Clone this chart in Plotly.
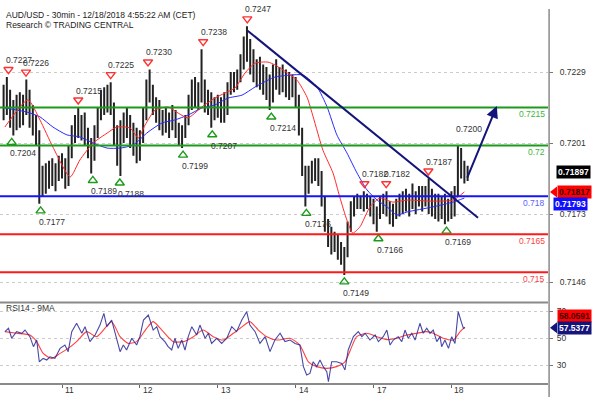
import plotly.graph_objects as go

# ---------------- data (hourly bars, hours counted from the start of day 11) ----------------
bar_hours = list(range(-18, 126))
bar_open = [
    0.7218, 0.7221, 0.7219, 0.7214, 0.7212, 0.7217, 0.7214, 0.7218, 0.7220, 0.7213, 0.7209, 0.7205,
    0.7185, 0.7188, 0.7186, 0.7190, 0.7187, 0.7190,
    0.7193, 0.7191, 0.7186, 0.7197, 0.7205, 0.7209, 0.7207, 0.7210, 0.7203, 0.7199, 0.7196, 0.7206,
    0.7213, 0.7219, 0.7215, 0.7220, 0.7214, 0.7204, 0.7198, 0.7207, 0.7210, 0.7206, 0.7202, 0.7205,
    0.7199, 0.7203, 0.7212, 0.7222, 0.7221, 0.7214, 0.7216, 0.7209, 0.7211, 0.7207, 0.7210, 0.7212,
    0.7206, 0.7203, 0.7205, 0.7210, 0.7218, 0.7223, 0.7219, 0.7221, 0.7223, 0.7216, 0.7218, 0.7212,
    0.7216, 0.7214, 0.7217, 0.7213, 0.7222, 0.7226, 0.7224, 0.7228, 0.7233, 0.7239, 0.7236, 0.7232,
    0.7229, 0.7231, 0.7226, 0.7228, 0.7223, 0.7219, 0.7229, 0.7225, 0.7227, 0.7224, 0.7226, 0.7221,
    0.7225, 0.7218, 0.7206, 0.7190, 0.7183, 0.7189, 0.7191, 0.7193, 0.7187, 0.7178, 0.7169, 0.7164,
    0.7161, 0.7163, 0.7158, 0.7156, 0.7158, 0.7168, 0.7175, 0.7178, 0.7180, 0.7177, 0.7180, 0.7177,
    0.7175, 0.7172, 0.7174, 0.7177, 0.7179, 0.7175, 0.7172, 0.7174, 0.7177, 0.7175, 0.7179, 0.7177,
    0.7180, 0.7178, 0.7181, 0.7179, 0.7182, 0.7178, 0.7180, 0.7176, 0.7178, 0.7174, 0.7177, 0.7173,
    0.7176, 0.7179, 0.7181, 0.7195, 0.7190, 0.7187,
]
bar_high = [
    0.7224, 0.7227, 0.7222, 0.7218, 0.7220, 0.7221, 0.7220, 0.7226, 0.7222, 0.7216, 0.7212, 0.7206,
    0.7192, 0.7193, 0.7194, 0.7195, 0.7193, 0.7196,
    0.7197, 0.7195, 0.7200, 0.7208, 0.7212, 0.7215, 0.7212, 0.7213, 0.7207, 0.7203, 0.7208, 0.7215,
    0.7222, 0.7223, 0.7224, 0.7225, 0.7217, 0.7208, 0.7210, 0.7213, 0.7215, 0.7212, 0.7209, 0.7207,
    0.7206, 0.7215, 0.7226, 0.7230, 0.7224, 0.7219, 0.7218, 0.7214, 0.7215, 0.7213, 0.7216, 0.7214,
    0.7209, 0.7208, 0.7212, 0.7220, 0.7226, 0.7227, 0.7225, 0.7238, 0.7226, 0.7222, 0.7221, 0.7219,
    0.7220, 0.7219, 0.7221, 0.7225, 0.7229, 0.7229, 0.7230, 0.7236, 0.7243, 0.7247, 0.7242, 0.7238,
    0.7234, 0.7235, 0.7232, 0.7231, 0.7228, 0.7232, 0.7234, 0.7231, 0.7232, 0.7230, 0.7229, 0.7228,
    0.7227, 0.7220, 0.7207, 0.7192, 0.7192, 0.7194, 0.7195, 0.7195, 0.7190, 0.7180, 0.7171, 0.7168,
    0.7166, 0.7165, 0.7162, 0.7160, 0.7170, 0.7178, 0.7180, 0.7181, 0.7180, 0.7182, 0.7181, 0.7180,
    0.7179, 0.7176, 0.7180, 0.7181, 0.7182, 0.7178, 0.7177, 0.7179, 0.7181, 0.7182, 0.7183, 0.7181,
    0.7185, 0.7182, 0.7184, 0.7184, 0.7184, 0.7187, 0.7183, 0.7181, 0.7181, 0.7180, 0.7181, 0.7179,
    0.7182, 0.7184, 0.7200, 0.7199, 0.7194, 0.7192,
]
bar_low = [
    0.7210, 0.7212, 0.7207, 0.7204, 0.7206, 0.7207, 0.7208, 0.7212, 0.7207, 0.7204, 0.7200, 0.7177,
    0.7180, 0.7181, 0.7183, 0.7184, 0.7182, 0.7186,
    0.7187, 0.7183, 0.7184, 0.7195, 0.7201, 0.7203, 0.7202, 0.7200, 0.7195, 0.7189, 0.7194, 0.7203,
    0.7210, 0.7212, 0.7213, 0.7212, 0.7200, 0.7192, 0.7188, 0.7201, 0.7203, 0.7199, 0.7196, 0.7193,
    0.7194, 0.7201, 0.7210, 0.7217, 0.7212, 0.7209, 0.7206, 0.7204, 0.7205, 0.7203, 0.7206, 0.7203,
    0.7200, 0.7199, 0.7203, 0.7208, 0.7214, 0.7215, 0.7214, 0.7217, 0.7213, 0.7212, 0.7207, 0.7210,
    0.7211, 0.7209, 0.7209, 0.7212, 0.7220, 0.7221, 0.7222, 0.7225, 0.7230, 0.7233, 0.7228, 0.7225,
    0.7223, 0.7222, 0.7220, 0.7218, 0.7214, 0.7217, 0.7222, 0.7220, 0.7221, 0.7219, 0.7218, 0.7219,
    0.7215, 0.7204, 0.7188, 0.7176, 0.7181, 0.7185, 0.7186, 0.7184, 0.7176, 0.7166, 0.7160, 0.7157,
    0.7158, 0.7155, 0.7153, 0.7149, 0.7156, 0.7166, 0.7172, 0.7175, 0.7175, 0.7174, 0.7175, 0.7172,
    0.7169, 0.7166, 0.7171, 0.7173, 0.7172, 0.7169, 0.7168, 0.7171, 0.7172, 0.7173, 0.7174, 0.7172,
    0.7175, 0.7173, 0.7176, 0.7174, 0.7176, 0.7173, 0.7172, 0.7171, 0.7170, 0.7171, 0.7169, 0.7170,
    0.7171, 0.7172, 0.7180, 0.7187, 0.7185, 0.7186,
]
bar_close = [
    0.7221, 0.7219, 0.7214, 0.7212, 0.7217, 0.7214, 0.7218, 0.7220, 0.7213, 0.7209, 0.7205, 0.7185,
    0.7188, 0.7186, 0.7190, 0.7187, 0.7190, 0.7193,
    0.7191, 0.7186, 0.7197, 0.7205, 0.7209, 0.7207, 0.7210, 0.7203, 0.7199, 0.7196, 0.7206, 0.7213,
    0.7219, 0.7215, 0.7220, 0.7214, 0.7204, 0.7198, 0.7207, 0.7210, 0.7206, 0.7202, 0.7205, 0.7199,
    0.7203, 0.7212, 0.7222, 0.7221, 0.7214, 0.7216, 0.7209, 0.7211, 0.7207, 0.7210, 0.7212, 0.7206,
    0.7203, 0.7205, 0.7210, 0.7218, 0.7223, 0.7219, 0.7221, 0.7223, 0.7216, 0.7218, 0.7212, 0.7216,
    0.7214, 0.7217, 0.7213, 0.7222, 0.7226, 0.7224, 0.7228, 0.7233, 0.7239, 0.7236, 0.7232, 0.7229,
    0.7231, 0.7226, 0.7228, 0.7223, 0.7219, 0.7229, 0.7225, 0.7227, 0.7224, 0.7226, 0.7221, 0.7225,
    0.7218, 0.7206, 0.7190, 0.7183, 0.7189, 0.7191, 0.7193, 0.7187, 0.7178, 0.7169, 0.7164, 0.7161,
    0.7163, 0.7158, 0.7156, 0.7158, 0.7168, 0.7175, 0.7178, 0.7180, 0.7177, 0.7180, 0.7177, 0.7175,
    0.7172, 0.7174, 0.7177, 0.7179, 0.7175, 0.7172, 0.7174, 0.7177, 0.7175, 0.7179, 0.7177, 0.7180,
    0.7178, 0.7181, 0.7179, 0.7182, 0.7178, 0.7180, 0.7176, 0.7178, 0.7174, 0.7177, 0.7173, 0.7176,
    0.7179, 0.7181, 0.7195, 0.7190, 0.7187, 0.71897,
]

# moving averages on price
ma_fast_hours = [-17.6, -10.5, -6.8, -2.8, 2.5, 5.5, 9.6, 13.9, 16.9, 21.0, 23.5, 25.6, 28.7, 32.7,
                 35.8, 38.8, 43.1, 47.1, 50.2, 53.3, 56.4, 59.5, 63.5, 65.6, 68.1, 72.4, 75.5, 77.4,
                 80.4, 83.5, 85.6, 87.8, 89.6, 91.8, 94.9, 98.0, 102.0, 106.3, 113.4, 120.5, 124.0]
ma_fast_values = [0.72073, 0.72180, 0.72101, 0.71994, 0.71876, 0.71943, 0.72010, 0.72049, 0.72073,
                  0.72069, 0.72030, 0.72081, 0.72140, 0.72152, 0.72128, 0.72109, 0.72152, 0.72187,
                  0.72207, 0.72227, 0.72286, 0.72325, 0.72329, 0.72318, 0.72298, 0.72258, 0.72191,
                  0.72113, 0.71982, 0.71892, 0.71797, 0.71706, 0.71655, 0.71679, 0.71758, 0.71793,
                  0.71777, 0.71785, 0.71781, 0.71785, 0.71817]
ma_slow_hours = [-17.6, -10.8, -6.8, -2.8, 1.5, 5.5, 9.6, 13.9, 17.9, 21.9, 26.5, 30.8, 34.8, 38.8,
                 43.1, 47.1, 51.1, 55.5, 59.5, 63.5, 65.6, 70.3, 74.3, 78.6, 81.7, 84.7, 87.8, 90.9,
                 94.0, 97.1, 100.2, 103.2, 106.3, 114.3, 120.5, 124.0]
ma_slow_values = [0.72148, 0.72132, 0.72113, 0.72073, 0.72042, 0.72034, 0.72010, 0.71990, 0.71990,
                  0.72002, 0.72053, 0.72089, 0.72101, 0.72120, 0.72148, 0.72160, 0.72187, 0.72199,
                  0.72231, 0.72258, 0.72270, 0.72278, 0.72278, 0.72231, 0.72152, 0.72042, 0.71971,
                  0.71892, 0.71825, 0.71785, 0.71758, 0.71726, 0.71738, 0.71758, 0.71777, 0.71793]

# RSI14 and its 9MA
rsi_hours = [-17.6, -16.5, -15.5, -14.0, -12.4, -11.4, -9.9, -8.8, -7.8, -7.0, -5.8, -4.7, -3.7, -2.2,
             -0.6, 0.9, 1.9, 3.0, 4.5, 6.1, 7.1, 8.6, 10.2, 11.7, 12.9, 13.8, 15.3, 16.3, 17.9, 18.9,
             19.9, 21.5, 23.0, 24.0, 25.1, 26.6, 28.1, 29.2, 30.2, 31.7, 32.7, 33.8, 34.8, 35.8, 36.9,
             37.9, 38.9, 40.0, 41.5, 42.5, 44.1, 45.1, 46.1, 47.7, 49.2, 50.8, 52.3, 53.8, 55.4, 56.9,
             57.9, 59.5, 61.0, 62.6, 64.1, 65.6, 67.2, 68.7, 70.3, 71.8, 73.3, 74.4, 75.4, 76.4, 77.4,
             78.5, 79.5, 80.5, 81.6, 82.1, 83.1, 84.6, 86.2, 87.2, 88.2, 89.8, 91.3, 92.4, 93.4, 94.9,
             96.5, 97.5, 99.0, 100.1, 101.1, 102.1, 103.6, 104.7, 105.7, 106.7, 107.8, 108.8, 110.3,
             111.3, 112.4, 113.4, 114.4, 115.5, 116.5, 117.0, 118.0, 119.1, 120.1, 121.1, 122.1,
             123.2, 123.7, 124.2]
rsi_values = [54.7, 57.2, 49.8, 54.7, 53.5, 55.9, 51.0, 43.6, 48.5, 32.4, 34.9, 33.7, 36.1, 34.9,
              42.3, 44.8, 39.9, 54.7, 60.9, 53.5, 58.4, 47.3, 52.2, 59.6, 68.3, 58.4, 63.3, 53.5,
              39.9, 44.8, 41.1, 49.8, 44.8, 51.0, 63.3, 67.0, 55.9, 58.4, 51.0, 47.3, 43.6, 41.1,
              49.8, 42.3, 48.5, 41.1, 51.0, 58.4, 52.2, 59.6, 49.8, 53.5, 46.0, 49.8, 46.0, 49.8,
              58.4, 54.7, 63.3, 69.5, 59.6, 54.7, 46.0, 51.0, 39.9, 48.5, 53.5, 47.3, 48.5, 46.0,
              44.8, 28.8, 22.6, 23.8, 32.4, 28.8, 33.7, 28.8, 25.0, 17.6, 32.4, 32.4, 31.2, 26.3,
              41.1, 51.0, 54.7, 51.0, 53.5, 48.5, 52.2, 47.3, 51.0, 55.9, 44.8, 48.5, 51.0, 47.3,
              55.9, 49.8, 53.5, 48.5, 60.9, 53.5, 57.2, 53.5, 55.9, 47.3, 51.0, 43.6, 48.5, 42.3,
              51.0, 46.0, 69.5, 60.9, 57.2, 57.5377]
rsi_ma_hours = [-17.6, -14.0, -9.9, -7.8, -5.8, -3.2, -0.6, 1.9, 4.5, 7.6, 10.7, 15.3, 17.9, 20.4,
                23.0, 26.1, 28.1, 31.2, 34.3, 37.4, 40.5, 43.5, 46.6, 49.7, 52.8, 54.9, 57.9, 60.5,
                63.1, 66.2, 70.3, 73.3, 75.9, 78.5, 81.6, 84.6, 87.2, 89.3, 90.8, 93.9, 97.0, 100.1,
                103.1, 106.2, 109.3, 112.4, 114.4, 117.5, 120.6, 122.7, 124.2]
rsi_ma_values = [54.7, 53.5, 52.2, 47.3, 38.6, 34.9, 38.6, 42.3, 47.3, 54.7, 51.0, 62.1, 51.0, 46.0,
                 47.3, 57.2, 62.1, 54.7, 47.3, 47.3, 51.0, 55.9, 51.0, 48.5, 53.5, 57.2, 62.1, 55.9,
                 51.0, 48.5, 49.8, 44.8, 32.4, 28.8, 27.5, 28.8, 32.4, 43.6, 51.0, 53.5, 51.0, 48.8,
                 49.8, 52.2, 53.5, 54.7, 53.5, 49.8, 48.5, 54.7, 58.0591]

day_ticks = [0, 24, 48, 72, 96, 120]
day_labels = ["11", "12", "13", "14", "17", "18"]
price_ticks = [0.7146, 0.7173, 0.7201, 0.7229]
rsi_ticks = [30, 50, 70]

level_values = [0.7215, 0.72, 0.718, 0.7165, 0.715]
level_labels = ["0.7215", "0.72", "0.718", "0.7165", "0.715"]

peak_hours = [-16.5, -11.1, 5.0, 15.0, 26.5, 43.5, 57.1, 93.2, 99.9, 112.9]
peak_values = [0.7227, 0.7226, 0.7215, 0.7225, 0.7230, 0.7238, 0.7247, 0.7182, 0.7182, 0.7187]
spike_hour, spike_value = 122.3, 0.7200
trough_hours = [-15.5, -6.6, 9.5, 17.8, 37.3, 46.3, 64.5, 75.3, 87.0, 97.5, 118.5]
trough_values = [0.7204, 0.7177, 0.7189, 0.7188, 0.7199, 0.7207, 0.7214, 0.7176, 0.7149, 0.7166, 0.7169]

trend_hours = [57.2, 128.2]
trend_values = [0.72453, 0.71715]
arrow_hours = [124.7, 134.0]
arrow_values = [0.71868, 0.72156]

last_close = 0.71897
ma_fast_last = 0.71817
ma_slow_last = 0.71793
rsi_last = 57.5377
rsi_ma_last = 58.0591

# ---------------- layout geometry / styles ----------------
W, H = 595, 397
ML, MR, MT, MB = 0, 47, 9, 14
PW, PH = W - ML - MR, H - MT - MB
PRICE_PX = 293
price_range = [0.7138306, 0.7253842]
rsi_range = [16.67, 75.93]
x_range = [-19.11, 149.77]
price_dom = [1 - PRICE_PX / PH, 1]
rsi_dom = [0, 80 / PH]
px_price = (price_range[1] - price_range[0]) / PRICE_PX

level_colors = ["#1c9a1c", "#1c9a1c", "#1414ff", "#ff1a1a", "#ff1a1a"]
level_text_colors = ["#3cb83c", "#3cb83c", "#6060ff", "#ff4040", "#ff4040"]
NAVY = "#14147a"
FONT = "Liberation Sans, Arial, sans-serif"
FS = 8.5


def price_to_paper(p):
    f = (p - price_range[0]) / (price_range[1] - price_range[0])
    return price_dom[0] + f * (price_dom[1] - price_dom[0])


def rsi_to_paper(r):
    f = (r - rsi_range[0]) / (rsi_range[1] - rsi_range[0])
    return rsi_dom[0] + f * (rsi_dom[1] - rsi_dom[0])


fig = go.Figure()

fig.add_trace(go.Ohlc(
    x=bar_hours, open=bar_open, high=bar_high, low=bar_low, close=bar_close,
    increasing=dict(line=dict(color="#222222", width=2.0)),
    decreasing=dict(line=dict(color="#222222", width=2.0)),
    tickwidth=0.15, hoverinfo="skip", xaxis="x", yaxis="y"))

fig.add_trace(go.Scatter(x=ma_slow_hours, y=ma_slow_values, mode="lines",
                         line=dict(color="#2a2aff", width=1, shape="spline", smoothing=0.6),
                         hoverinfo="skip", xaxis="x", yaxis="y"))
fig.add_trace(go.Scatter(x=ma_fast_hours, y=ma_fast_values, mode="lines",
                         line=dict(color="#ff2a2a", width=1, shape="spline", smoothing=0.6),
                         hoverinfo="skip", xaxis="x", yaxis="y"))

# pivot triangles
fig.add_trace(go.Scatter(
    x=peak_hours, y=[v + 7.5 * px_price for v in peak_values], mode="markers",
    marker=dict(symbol="triangle-down-open", size=8, color="#ff3030", line=dict(width=1.4, color="#ff3030")),
    hoverinfo="skip", xaxis="x", yaxis="y"))
fig.add_trace(go.Scatter(
    x=trough_hours, y=[v - 7 * px_price for v in trough_values], mode="markers",
    marker=dict(symbol="triangle-up-open", size=8, color="#1c9a1c", line=dict(width=1.4, color="#1c9a1c")),
    hoverinfo="skip", xaxis="x", yaxis="y"))

# RSI pane
fig.add_trace(go.Scatter(x=rsi_ma_hours, y=rsi_ma_values, mode="lines",
                         line=dict(color="#ff4040", width=1.1, shape="spline", smoothing=0.6),
                         hoverinfo="skip", xaxis="x2", yaxis="y2"))
fig.add_trace(go.Scatter(x=rsi_hours, y=rsi_values, mode="lines",
                         line=dict(color="rgba(40,40,150,0.85)", width=1.1),
                         hoverinfo="skip", xaxis="x2", yaxis="y2"))

shapes = []
annotations = []

for v, c in zip(level_values, level_colors):
    shapes.append(dict(type="line", xref="paper", x0=0, x1=1, yref="y", y0=v, y1=v,
                       line=dict(color=c, width=2)))
for v, t, c in zip(level_values, level_labels, level_text_colors):
    annotations.append(dict(xref="paper", x=1, xanchor="right", xshift=-1, yref="y", y=v,
                            yanchor="middle", yshift=-6.5, text=t, showarrow=False,
                            font=dict(family=FONT, size=FS, color=c)))

shapes.append(dict(type="line", xref="x", yref="y", x0=trend_hours[0], y0=trend_values[0],
                   x1=trend_hours[1], y1=trend_values[1], line=dict(color=NAVY, width=2)))
annotations.append(dict(xref="x", yref="y", x=arrow_hours[1], y=arrow_values[1],
                        axref="x", ayref="y", ax=arrow_hours[0], ay=arrow_values[0],
                        text="", showarrow=True, arrowhead=2, arrowsize=1.2, arrowwidth=2,
                        arrowcolor=NAVY, standoff=0))

# pane frames
shapes.append(dict(type="line", xref="paper", yref="paper", x0=0, x1=1, y0=rsi_dom[1] + 0.5 / PH,
                   y1=rsi_dom[1] + 0.5 / PH, line=dict(color="#8a8a8a", width=2)))
shapes.append(dict(type="line", xref="paper", yref="paper", x0=0, x1=1, y0=-1 / PH, y1=-1 / PH,
                   line=dict(color="#8a8a8a", width=2)))
shapes.append(dict(type="line", xref="paper", yref="paper", x0=1.002, x1=1.002, y0=-MB / PH, y1=1,
                   line=dict(color="#8a8a8a", width=1.5)))

# pivot labels
for h, v in zip(peak_hours, peak_values):
    annotations.append(dict(xref="x", yref="y", x=h, y=v, xanchor="left", xshift=-4.5,
                            yanchor="middle", yshift=17, text=f"{v:.4f}", showarrow=False,
                            font=dict(family=FONT, size=FS, color="#333333")))
annotations.append(dict(xref="x", yref="y", x=spike_hour, y=spike_value, xanchor="left", xshift=-4.5,
                        yanchor="middle", yshift=17, text=f"{spike_value:.4f}", showarrow=False,
                        font=dict(family=FONT, size=FS, color="#333333")))
for h, v in zip(trough_hours, trough_values):
    annotations.append(dict(xref="x", yref="y", x=h, y=v, xanchor="left", xshift=-3.5,
                            yanchor="middle", yshift=-18, text=f"{v:.4f}", showarrow=False,
                            font=dict(family=FONT, size=FS, color="#333333")))


def box_label(yc_paper, text, bg, fg, x_left_px, tip=False):
    annotations.append(dict(xref="paper", yref="paper", x=x_left_px / PW, y=yc_paper,
                            xanchor="left", yanchor="middle", text=f"<b>{text}</b>",
                            showarrow=False, bgcolor=bg, borderpad=1,
                            font=dict(family=FONT, size=FS, color=fg)))
    if tip:
        dy = 5.5 / PH
        shapes.append(dict(type="path", xref="paper", yref="paper",
                           path=f"M {550 / PW},{yc_paper} L {557 / PW},{yc_paper + dy} "
                                f"L {557 / PW},{yc_paper - dy} Z",
                           fillcolor=bg, line=dict(width=0)))


box_label(price_to_paper(last_close), f"{last_close:.5f}", "#000000", "#ffffff", 555.5)
box_label(price_to_paper(ma_fast_last), f"{ma_fast_last:.5f}", "#ff0000", "#3a0000", 556.5, tip=True)
box_label(price_to_paper(ma_slow_last) - 5.5 / PH, f"{ma_slow_last:.5f}", "#1010ff", "#ffffff", 552.5)
box_label(rsi_to_paper(rsi_ma_last) + 11 / PH, f"{rsi_ma_last:.4f}", "#ff0000", "#3a0000", 556.5)
box_label(rsi_to_paper(rsi_last), f"{rsi_last:.4f}", "#14147a", "#ffffff", 556.5, tip=True)

# titles
annotations.append(dict(xref="paper", yref="paper", x=4 / PW, y=1 - (15 - MT) / PH, xanchor="left",
                        yanchor="middle", text="AUD/USD - 30min - 12/18/2018 4:55:22 AM (CET)",
                        showarrow=False, font=dict(family=FONT, size=FS, color="#222222")))
annotations.append(dict(xref="paper", yref="paper", x=4 / PW, y=1 - (25 - MT) / PH, xanchor="left",
                        yanchor="middle", text="Research © TRADING CENTRAL",
                        showarrow=False, font=dict(family=FONT, size=FS, color="#222222")))
annotations.append(dict(xref="paper", yref="paper", x=4 / PW, y=1 - (308 - MT) / PH, xanchor="left",
                        yanchor="middle", text="RSI14 - 9MA",
                        showarrow=False, font=dict(family=FONT, size=FS, color="#333333")))

# day labels
for h, t in zip(day_ticks, day_labels):
    annotations.append(dict(xref="x", yref="paper", x=h, y=-7 / PH, xanchor="left", xshift=1,
                            yanchor="middle", text=t, showarrow=False,
                            font=dict(family=FONT, size=FS, color="#333333")))

fig.update_layout(
    width=W, height=H, margin=dict(l=ML, r=MR, t=MT, b=MB),
    paper_bgcolor="white", plot_bgcolor="white", showlegend=False,
    font=dict(family=FONT, size=FS, color="#333333"),
    xaxis=dict(domain=[0, 1], range=x_range, anchor="y", showticklabels=False, showgrid=False,
               zeroline=False, showline=False, ticks="", rangeslider=dict(visible=False)),
    xaxis2=dict(domain=[0, 1], range=x_range, anchor="y2", matches="x", tickvals=day_ticks,
                ticks="outside", ticklen=4, tickcolor="#666666", showticklabels=False,
                showgrid=False, zeroline=False, showline=False),
    yaxis=dict(domain=price_dom, range=price_range, side="right", anchor="x",
               tickvals=price_ticks, ticktext=[f"{v:.4f}" for v in price_ticks],
               ticks="outside", ticklen=4, tickcolor="#777777", ticklabelstandoff=5,
               showgrid=True, gridcolor="#cccccc", griddash="dot", gridwidth=1,
               zeroline=False, showline=False, tickfont=dict(family=FONT, size=FS, color="#333333")),
    yaxis2=dict(domain=rsi_dom, range=rsi_range, side="right", anchor="x2",
                tickvals=rsi_ticks, ticktext=[str(v) for v in rsi_ticks],
                ticks="outside", ticklen=4, tickcolor="#777777", ticklabelstandoff=2,
                showgrid=True, gridcolor="#cccccc", griddash="dot", gridwidth=1,
                zeroline=False, showline=False, tickfont=dict(family=FONT, size=FS, color="#333333")),
    shapes=shapes, annotations=annotations,
)

fig.write_html("out.html", config={"displayModeBar": False},
               post_script="document.body.style.margin='0';document.body.style.padding='0';"
                           "document.body.style.overflow='hidden';")
